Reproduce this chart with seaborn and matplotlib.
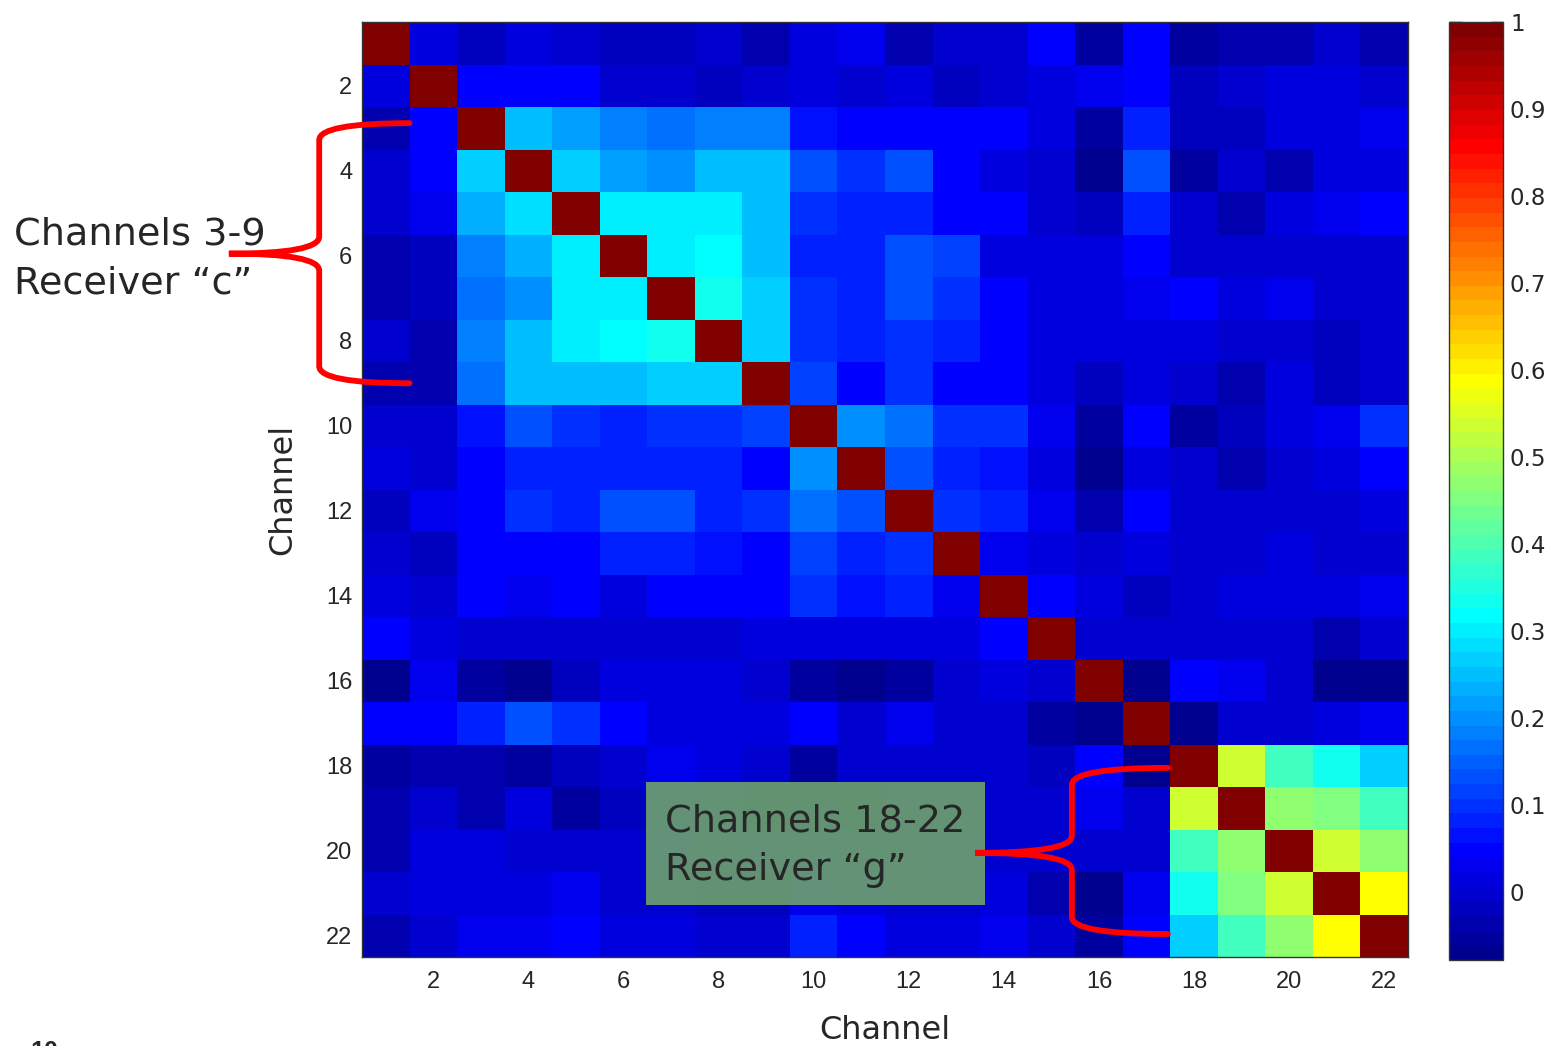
import numpy as np
import pandas as pd
import matplotlib
matplotlib.use('Agg')
import matplotlib.pyplot as plt
from matplotlib.colors import ListedColormap
from matplotlib.path import Path
from matplotlib.patches import PathPatch, Rectangle
import seaborn as sns

# Channel-to-channel correlation
channels = list(range(1, 23))
row_01 = [1, 0.02, -0.02, 0.01, 0.0, -0.02, -0.02, 0.0, -0.03, 0.02, 0.035, -0.04, -0.01, 0.0, 0.05, -0.06, 0.05, -0.05, -0.04, -0.04, 0.0, -0.04]
row_02 = [0.02, 1, 0.04, 0.05, 0.04, 0.0, 0.0, -0.02, 0.0, 0.01, 0.0, 0.02, -0.02, -0.01, 0.02, 0.03, 0.05, -0.02, -0.01, 0.02, 0.02, -0.01]
row_03 = [-0.03, 0.04, 1, 0.255, 0.225, 0.19, 0.166, 0.19, 0.19, 0.065, 0.05, 0.05, 0.05, 0.05, 0.01, -0.05, 0.082, -0.02, -0.02, 0.02, 0.02, 0.03]
row_04 = [0.0, 0.05, 0.267, 1, 0.275, 0.225, 0.205, 0.25, 0.25, 0.132, 0.105, 0.125, 0.05, 0.02, 0.0, -0.07, 0.14, -0.06, 0.0, -0.03, 0.01, 0.02]
row_05 = [-0.01, 0.035, 0.234, 0.284, 1, 0.301, 0.301, 0.301, 0.25, 0.105, 0.09, 0.082, 0.05, 0.05, 0.0, -0.02, 0.09, -0.01, -0.04, 0.01, 0.035, 0.05]
row_06 = [-0.03, -0.02, 0.19, 0.234, 0.301, 1, 0.301, 0.318, 0.25, 0.09, 0.082, 0.125, 0.115, 0.02, 0.01, 0.02, 0.05, -0.01, -0.01, 0.0, 0.0, 0.0]
row_07 = [-0.04, -0.02, 0.166, 0.205, 0.301, 0.301, 1, 0.335, 0.267, 0.105, 0.09, 0.125, 0.105, 0.05, 0.01, 0.02, 0.035, 0.04, 0.02, 0.035, 0.0, 0.0]
row_08 = [-0.01, -0.03, 0.19, 0.25, 0.301, 0.318, 0.335, 1, 0.267, 0.098, 0.075, 0.098, 0.075, 0.05, 0.015, 0.02, 0.02, 0.02, -0.01, 0.0, -0.02, -0.01]
row_09 = [-0.04, -0.03, 0.166, 0.25, 0.25, 0.25, 0.267, 0.267, 1, 0.115, 0.05, 0.105, 0.05, 0.05, 0.02, -0.02, 0.015, -0.01, -0.03, 0.01, -0.02, -0.01]
row_10 = [0.0, -0.01, 0.065, 0.125, 0.105, 0.09, 0.105, 0.098, 0.115, 1, 0.2, 0.166, 0.105, 0.105, 0.035, -0.05, 0.05, -0.05, -0.02, 0.01, 0.035, 0.098]
row_11 = [0.02, 0.0, 0.05, 0.082, 0.082, 0.082, 0.082, 0.075, 0.05, 0.2, 1, 0.132, 0.09, 0.065, 0.02, -0.065, 0.01, -0.01, -0.03, -0.01, 0.02, 0.05]
row_12 = [-0.02, 0.035, 0.05, 0.105, 0.082, 0.125, 0.125, 0.082, 0.105, 0.166, 0.132, 1, 0.098, 0.082, 0.035, -0.04, 0.05, 0.0, 0.0, 0.0, 0.0, 0.02]
row_13 = [0.0, -0.02, 0.05, 0.05, 0.05, 0.09, 0.09, 0.065, 0.05, 0.115, 0.09, 0.098, 1, 0.03, 0.015, 0.0, 0.015, 0.0, 0.0, 0.015, 0.0, 0.0]
row_14 = [0.01, -0.01, 0.05, 0.035, 0.05, 0.015, 0.05, 0.05, 0.05, 0.105, 0.065, 0.082, 0.03, 1, 0.05, 0.01, -0.02, 0.0, 0.015, 0.01, 0.02, 0.035]
row_15 = [0.05, 0.015, 0.0, 0.0, 0.0, 0.0, 0.0, 0.0, 0.01, 0.02, 0.01, 0.02, 0.01, 0.05, 1, 0.0, 0.0, -0.01, 0.0, 0.0, -0.03, -0.01]
row_16 = [-0.07, 0.035, -0.05, -0.07, -0.02, 0.015, 0.015, 0.015, -0.01, -0.05, -0.065, -0.05, -0.01, 0.01, -0.01, 1, -0.065, 0.05, 0.035, 0.0, -0.065, -0.065]
row_17 = [0.05, 0.05, 0.09, 0.132, 0.098, 0.05, 0.02, 0.015, 0.015, 0.05, 0.0, 0.03, -0.01, 0.0, -0.05, -0.065, 1, -0.07, -0.01, -0.01, 0.02, 0.03]
row_18 = [-0.05, -0.03, -0.03, -0.06, -0.02, -0.01, 0.035, 0.02, -0.01, -0.05, -0.01, -0.01, -0.01, -0.01, -0.02, 0.05, -0.07, 1, 0.537, 0.386, 0.335, 0.267]
row_19 = [-0.04, -0.01, -0.04, 0.01, -0.05, -0.02, 0.02, -0.01, -0.03, -0.02, -0.03, 0.0, 0.0, 0.0, 0.0, 0.035, 0.0, 0.537, 1, 0.47, 0.445, 0.386]
row_20 = [-0.03, 0.02, 0.02, 0.0, 0.0, 0.0, 0.035, 0.0, 0.01, 0.01, -0.01, 0.0, 0.015, 0.0, -0.01, -0.01, 0.0, 0.386, 0.47, 1, 0.537, 0.47]
row_21 = [0.0, 0.02, 0.02, 0.02, 0.03, 0.0, 0.0, -0.02, -0.02, 0.035, 0.02, 0.0, 0.0, 0.02, -0.04, -0.065, 0.035, 0.335, 0.445, 0.537, 1, 0.587]
row_22 = [-0.04, 0.0, 0.035, 0.035, 0.05, 0.015, 0.015, 0.0, 0.0, 0.082, 0.05, 0.02, 0.01, 0.035, 0.0, -0.06, 0.05, 0.267, 0.386, 0.47, 0.587, 1]

tick_channels = [2, 4, 6, 8, 10, 12, 14, 16, 18, 20, 22]
cbar_ticks = [0, 0.1, 0.2, 0.3, 0.4, 0.5, 0.6, 0.7, 0.8, 0.9, 1]
cbar_labels = ['0', '0.1', '0.2', '0.3', '0.4', '0.5', '0.6', '0.7', '0.8', '0.9', '1']
vmin, vmax = -0.078, 1.0

rows = [row_01, row_02, row_03, row_04, row_05, row_06, row_07, row_08, row_09, row_10, row_11,
        row_12, row_13, row_14, row_15, row_16, row_17, row_18, row_19, row_20, row_21, row_22]
corr = pd.DataFrame(rows, index=channels, columns=channels)


def matlab_jet(m=64):
    # same construction as MATLAB's jet(m)
    n = int(np.ceil(m / 4))
    u = np.concatenate([np.arange(1, n + 1) / n, np.ones(n - 1), np.arange(n, 0, -1) / n])
    g = int(np.ceil(n / 2)) - (1 if m % 4 == 1 else 0) + np.arange(1, len(u) + 1)
    r = g + n
    b = g - n
    J = np.zeros((m, 3))
    ok = r <= m
    J[r[ok] - 1, 0] = u[ok]
    ok = g <= m
    J[g[ok] - 1, 1] = u[ok]
    ok = b >= 1
    J[b[ok] - 1, 2] = u[ok]
    return ListedColormap(J)


sns.set_style('white')
plt.rcParams['font.family'] = ['DejaVu Sans']

W, H = 1553, 1046
fig = plt.figure(figsize=(W / 100, H / 100), dpi=100)
ax = fig.add_axes([362 / W, 1 - 957 / H, (1408 - 362) / W, (957 - 22) / H])
cax = fig.add_axes([1449 / W, 1 - 960 / H, (1503 - 1449) / W, (960 - 22) / H])

sns.heatmap(corr, ax=ax, cbar_ax=cax, cmap=matlab_jet(64), vmin=vmin, vmax=vmax,
            xticklabels=False, yticklabels=False)

# MATLAB-like frame and ticks
for s in ax.spines.values():
    s.set_visible(True)
    s.set_color('#333333')
    s.set_linewidth(1)
tick_pos = [channels.index(c) + 0.5 for c in tick_channels]
ax.set_xticks(tick_pos)
ax.set_xticklabels(tick_channels, fontfamily='Liberation Sans', fontsize=17)
ax.set_yticks(tick_pos)
ax.set_yticklabels(tick_channels, fontfamily='Liberation Sans', fontsize=17, rotation=0)
ax.tick_params(direction='in', length=7, width=1, top=True, right=True, color='black')
ax.tick_params(axis='x', pad=10)
ax.tick_params(axis='y', pad=7)
ax.set_xlabel('Channel', fontsize=23, labelpad=16)
ax.set_ylabel('Channel', fontsize=23, labelpad=20)

cbar = ax.collections[0].colorbar
cbar.outline.set_visible(True)
cbar.outline.set_linewidth(1)
cbar.outline.set_edgecolor('#333333')
cbar.set_ticks(cbar_ticks)
cbar.set_ticklabels(cbar_labels)
cax.tick_params(direction='in', length=9, width=1, left=True, right=True,
                labelsize=16.5, pad=5, color='black')


def brace(x_tip, y_top, y_bot, x_body, x_point, y_mid, h=0.4):
    verts = [(x_tip, y_top), (x_body, y_top), (x_body, y_top + h),
             (x_body, y_mid - h), (x_body, y_mid), (x_point, y_mid),
             (x_body, y_mid), (x_body, y_mid + h),
             (x_body, y_bot - h), (x_body, y_bot), (x_tip, y_bot)]
    codes = [Path.MOVETO, Path.CURVE3, Path.CURVE3,
             Path.LINETO, Path.CURVE3, Path.CURVE3,
             Path.CURVE3, Path.CURVE3,
             Path.LINETO, Path.CURVE3, Path.CURVE3]
    ax.add_patch(PathPatch(Path(verts, codes), facecolor='none', edgecolor='#ff0000',
                           lw=4.2, capstyle='round', clip_on=False, zorder=6))


# Receiver "g" label box
ax.add_patch(Rectangle((5.97, 17.88), 7.13, 2.9, facecolor='#6fa36b', alpha=0.9,
                       edgecolor='none', zorder=4))
ax.text(6.37, 19.38, 'Channels 18-22\nReceiver \u201cg\u201d', fontsize=27.5,
        va='center', ha='left', linespacing=1.45, zorder=5)

brace(1.0, 2.38, 8.5, -0.9, -2.8, 5.45)
brace(16.95, 17.55, 21.46, 14.93, 12.9, 19.55)

ax.text(-7.32, 5.58, 'Channels 3-9\nReceiver \u201cc\u201d', fontsize=27.5,
        va='center', ha='left', linespacing=1.45, clip_on=False)

fig.text(30 / W, 1 - 1040 / H, '10', fontsize=18, fontweight='bold',
         fontfamily='Liberation Sans', va='top', ha='left')

fig.savefig('out.png', dpi=100)
